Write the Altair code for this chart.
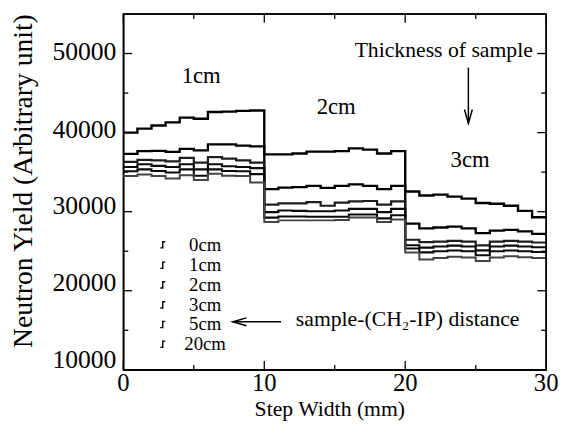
import altair as alt
import pandas as pd

# ---------------- data ----------------
series_names = ["0cm", "1cm", "2cm", "3cm", "5cm", "20cm"]
step_x = list(range(31))  # step edges in mm

y_0cm = [40000, 40500, 40900, 41300, 41900, 41750, 42600, 42650, 42750, 42800,
         37250, 37250, 37350, 37600, 37600, 37650, 38000, 37850, 37350, 37650,
         32550, 32050, 32150, 31900, 31650, 31100, 31000, 30750, 30100, 29300]
y_1cm = [37300, 37650, 37700, 37550, 37950, 37750, 38500, 38500, 38350, 38250,
         32850, 33050, 33100, 33250, 33000, 33250, 33450, 33250, 32850, 33250,
         28500, 27900, 28000, 28100, 27900, 27300, 27600, 27700, 27500, 27200]
y_2cm = [36300, 36550, 36500, 36350, 36800, 36200, 36900, 36700, 36500, 36200,
         30900, 31050, 31050, 31200, 30750, 31150, 31300, 31350, 30900, 31300,
         26450, 26150, 26200, 26300, 26200, 25750, 26200, 26300, 26200, 26100]
y_3cm = [35650, 36000, 35800, 35650, 36000, 35350, 36000, 35750, 35650, 35500,
         29950, 30150, 30100, 30050, 30050, 30150, 30350, 30350, 29950, 30350,
         25750, 25450, 25600, 25700, 25600, 25100, 25600, 25700, 25600, 25500]
y_5cm = [35100, 35350, 35150, 34950, 35350, 34550, 35350, 35150, 35100, 34750,
         29250, 29400, 29400, 29350, 29350, 29350, 29650, 29650, 29150, 29550,
         25350, 24850, 25000, 25100, 25000, 24500, 25000, 25100, 25000, 24900]
y_20cm = [34500, 34700, 34500, 34200, 34600, 34000, 34800, 34550, 34500, 33700,
          28700, 28900, 28900, 28900, 28900, 28950, 29250, 29250, 28700, 29000,
          24850, 23950, 24150, 24300, 24200, 23750, 24200, 24350, 24250, 24150]

all_series = [y_0cm, y_1cm, y_2cm, y_3cm, y_5cm, y_20cm]

line_colors = ["#000000", "#000000", "#1e1e1e", "#0a0a0a", "#0a0a0a", "#444444"]
line_widths = [2.4, 2.0, 1.6, 1.8, 1.8, 1.4]

y_major_ticks = [10000, 20000, 30000, 40000, 50000]
y_minor_ticks = [15000, 25000, 35000, 45000]
x_major_ticks = [0, 10, 20, 30]
x_minor_ticks = [5, 15, 25]
frame_right_x = [30]
frame_top_y = [55000]

# legend rows (annotation anchor values on the y scale)
legend_row_y = [25810, 23230, 20750, 18220, 15730, 13240]

thick_labels = ["1cm", "2cm", "3cm"]
thick_x = [5.52, 15.1, 24.6]
thick_y = [46230, 42290, 35650]

note_texts = ["Thickness of sample", "sample-(CH\u2082-IP) distance"]
note_x = [22.73, 12.24]
note_y = [49600, 15480]

arrow_down_x = [24.48, 24.48]
arrow_down_y = [48220, 41170]
arrow_left_x = [11.19, 7.76]
arrow_left_y = [16070, 16070]

# ---------------- tables ----------------
rows = []
for name, vals in zip(series_names, all_series):
    ext = vals + [vals[-1]]
    for xv, yv in zip(step_x, ext):
        rows.append({"x": xv, "y": yv, "series": name, "weight": name})
df = pd.DataFrame(rows)

W, H = 429, 361
FONT = "Liberation Serif"
xs = alt.Scale(domain=[0, 30], nice=False, zero=False)
ys = alt.Scale(domain=[10000, 55000], nice=False, zero=False)

lines = alt.Chart(df).mark_line(interpolate="step-after").encode(
    x=alt.X("x:Q", scale=xs,
            axis=alt.Axis(values=x_major_ticks, title="Step Width (mm)", ticks=False,
                          labels=False, domain=True, domainColor="black", domainWidth=1.5,
                          grid=False, titleFont=FONT, titleColor="black",
                          titleFontWeight="normal", titleFontSize=22, titleX=209, titleY=46,
                          titleBaseline="alphabetic", titleAnchor="start", titleAlign="center")),
    y=alt.Y("y:Q", scale=ys,
            axis=alt.Axis(values=y_major_ticks, title="Neutron Yield (Arbitrary unit)",
                          ticks=False, labels=False, domain=True, domainColor="black",
                          domainWidth=1.5, grid=False, titleFont=FONT, titleColor="black",
                          titleFontWeight="normal", titleFontSize=28, titleX=-101, titleY=169,
                          titleAngle=270, titleAlign="center", titleBaseline="middle")),
    color=alt.Color("series:N", scale=alt.Scale(domain=series_names, range=line_colors),
                    sort=series_names, legend=None),
    size=alt.Size("weight:N", scale=alt.Scale(domain=series_names, range=line_widths),
                  legend=None),
)

def tick_layer(vals, field, length, side):
    d = pd.DataFrame({field: vals})
    base = alt.Chart(d).mark_rule(color="black", strokeWidth=1.3)
    if field == "y":
        yenc = alt.Y("y:Q", scale=ys)
        if side == "left":
            return base.encode(y=yenc, x=alt.value(0), x2=alt.value(length))
        return base.encode(y=yenc, x=alt.value(W), x2=alt.value(W - length))
    xenc = alt.X("x:Q", scale=xs)
    if side == "bottom":
        return base.encode(x=xenc, y=alt.value(H), y2=alt.value(H - length))
    return base.encode(x=xenc, y=alt.value(0), y2=alt.value(length))

ticks = [
    tick_layer(y_major_ticks, "y", 9, "left"), tick_layer(y_minor_ticks, "y", 5, "left"),
    tick_layer(y_major_ticks, "y", 9, "right"), tick_layer(y_minor_ticks, "y", 5, "right"),
    tick_layer(x_major_ticks, "x", 9, "bottom"), tick_layer(x_minor_ticks, "x", 5, "bottom"),
    tick_layer(x_major_ticks, "x", 9, "top"), tick_layer(x_minor_ticks, "x", 5, "top"),
]

frame_right = alt.Chart(pd.DataFrame({"x": frame_right_x})).mark_rule(
    color="black", strokeWidth=1.5).encode(
    x=alt.X("x:Q", scale=xs), y=alt.value(0), y2=alt.value(H))
frame_top = alt.Chart(pd.DataFrame({"y": frame_top_y})).mark_rule(
    color="black", strokeWidth=1.5).encode(
    y=alt.Y("y:Q", scale=ys), x=alt.value(0), x2=alt.value(W))

# tick labels as text (serif)
label_dy = [-10, -8, -6, -3, -1]
y_labels = []
for v, dy in zip(y_major_ticks, label_dy):
    y_labels.append(
        alt.Chart(pd.DataFrame({"y": [v], "t": [str(v)]})).mark_text(
            font=FONT, fontSize=26, color="black", align="right", baseline="middle",
            dy=dy).encode(y=alt.Y("y:Q", scale=ys), x=alt.value(-7), text="t:N"))
x_labels = alt.Chart(pd.DataFrame({"x": x_major_ticks,
                                   "t": [str(v) for v in x_major_ticks]})).mark_text(
    font=FONT, fontSize=25, color="black", align="center", baseline="top").encode(
    x=alt.X("x:Q", scale=xs), y=alt.value(H + 1), text="t:N")

# legend drawn by hand
leg_df = pd.DataFrame({"y": legend_row_y, "t": series_names})
leg_sym = alt.Chart(leg_df).mark_point(
    shape="M -0.8 1 L 0 1 L 0 -1 L 0.8 -1", filled=False, color="black",
    strokeWidth=1.4, size=40, opacity=1).encode(
    y=alt.Y("y:Q", scale=ys), x=alt.value(40))
leg_txt = alt.Chart(leg_df).mark_text(
    font=FONT, fontSize=19, color="black", align="center", baseline="middle").encode(
    y=alt.Y("y:Q", scale=ys), x=alt.value(83), text="t:N")

def pos():
    return dict(x=alt.X("x:Q", scale=xs), y=alt.Y("y:Q", scale=ys))

thick_df = pd.DataFrame({"x": thick_x, "y": thick_y, "t": thick_labels})
thick_text = alt.Chart(thick_df).mark_text(font=FONT, fontSize=23, color="black",
                                           align="center", baseline="alphabetic").encode(
    text="t:N", **pos())

note1 = alt.Chart(pd.DataFrame({"x": note_x[:1], "y": note_y[:1], "t": note_texts[:1]})).mark_text(
    font=FONT, fontSize=22, color="black", align="center", baseline="alphabetic").encode(
    text="t:N", **pos())
note2 = alt.Chart(pd.DataFrame({"x": note_x[1:], "y": note_y[1:], "t": note_texts[1:]})).mark_text(
    font=FONT, fontSize=22, color="black", align="left", baseline="alphabetic").encode(
    text="t:N", **pos())

down_df = pd.DataFrame({"x": arrow_down_x, "y": arrow_down_y})
down_shaft = alt.Chart(down_df).mark_line(color="black", strokeWidth=1.5).encode(**pos())
down_head = alt.Chart(down_df.iloc[[1]]).mark_point(
    shape="M -1 -3.5 L 0 0 L 1 -3.5", filled=False, color="black", strokeWidth=1.5,
    size=64, opacity=1).encode(**pos())

left_df = pd.DataFrame({"x": arrow_left_x, "y": arrow_left_y})
left_shaft = alt.Chart(left_df).mark_line(color="black", strokeWidth=1.5).encode(**pos())
left_head = alt.Chart(left_df.iloc[[1]]).mark_point(
    shape="M 3.5 -1 L 0 0 L 3.5 1", filled=False, color="black", strokeWidth=1.5,
    size=64, opacity=1).encode(**pos())

chart = alt.layer(
    lines, *ticks, frame_right, frame_top, *y_labels, x_labels, leg_sym, leg_txt,
    thick_text, note1, note2, down_shaft, down_head, left_shaft, left_head
).properties(
    width=W, height=H,
    autosize=alt.AutoSizeParams(type="none"),
    padding={"left": 117, "top": 3, "right": 13, "bottom": 60},
    background="white",
).configure_view(
    stroke="black", strokeWidth=1.5, clip=False
).configure_axis(
    titleFont=FONT
)

chart.save("out.html", embed_options={"renderer": "svg", "actions": False})
